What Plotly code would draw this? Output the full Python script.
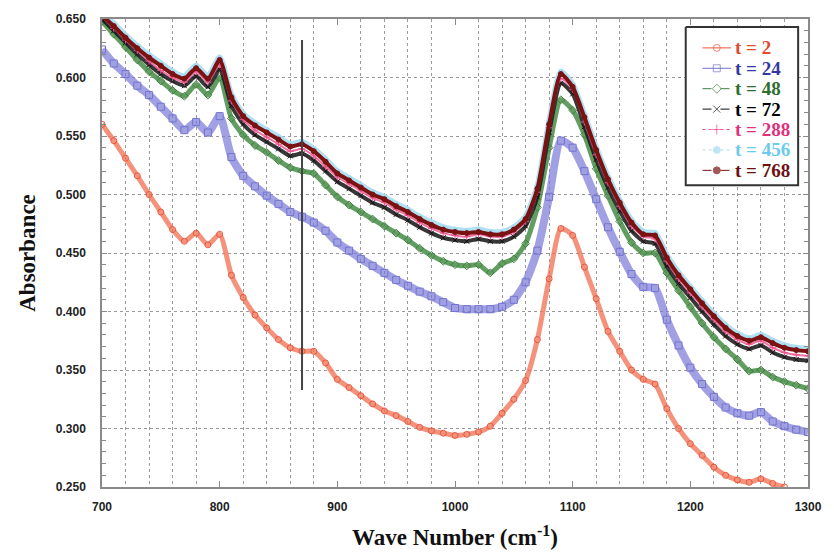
import plotly.graph_objects as go

# ---------------- data ----------------
wavenumber = list(range(700, 1301, 10))
wavenumber_t2 = list(range(700, 1281, 10))

t2 = [0.560, 0.546, 0.531, 0.516, 0.500, 0.485, 0.470, 0.460, 0.467, 0.457,
      0.466, 0.431, 0.412, 0.397, 0.386, 0.376, 0.369, 0.366, 0.366, 0.356,
      0.342, 0.335, 0.328, 0.321, 0.315, 0.311, 0.306, 0.301, 0.298, 0.296,
      0.294, 0.295, 0.297, 0.302, 0.313, 0.325, 0.341, 0.376, 0.428, 0.471,
      0.465, 0.438, 0.411, 0.383, 0.366, 0.350, 0.342, 0.338, 0.317, 0.300,
      0.287, 0.277, 0.267, 0.260, 0.256, 0.254, 0.257, 0.253, 0.250]

t24 = [0.624, 0.612, 0.603, 0.593, 0.585, 0.575, 0.565, 0.555, 0.562, 0.553,
       0.567, 0.532, 0.516, 0.507, 0.499, 0.492, 0.485, 0.481, 0.476, 0.469,
       0.459, 0.452, 0.445, 0.439, 0.433, 0.427, 0.422, 0.417, 0.413, 0.408,
       0.403, 0.402, 0.402, 0.402, 0.404, 0.410, 0.425, 0.452, 0.498, 0.546,
       0.540, 0.520, 0.496, 0.472, 0.451, 0.432, 0.421, 0.420, 0.393, 0.371,
       0.352, 0.338, 0.327, 0.318, 0.313, 0.311, 0.314, 0.306, 0.302, 0.299,
       0.297]

t48 = [0.648, 0.637, 0.626, 0.615, 0.605, 0.597, 0.589, 0.584, 0.594, 0.585,
       0.600, 0.565, 0.551, 0.542, 0.536, 0.529, 0.523, 0.520, 0.518, 0.508,
       0.498, 0.491, 0.485, 0.479, 0.473, 0.467, 0.461, 0.454, 0.448, 0.443,
       0.440, 0.439, 0.440, 0.433, 0.441, 0.445, 0.458, 0.489, 0.540, 0.581,
       0.572, 0.551, 0.522, 0.499, 0.477, 0.459, 0.450, 0.450, 0.433, 0.418,
       0.404, 0.390, 0.378, 0.368, 0.359, 0.349, 0.350, 0.344, 0.340, 0.337,
       0.334]

t72 = [0.650, 0.640, 0.630, 0.620, 0.611, 0.603, 0.597, 0.593, 0.601, 0.592,
       0.607, 0.576, 0.560, 0.551, 0.545, 0.539, 0.533, 0.535, 0.529, 0.520,
       0.511, 0.505, 0.499, 0.493, 0.489, 0.483, 0.478, 0.472, 0.467, 0.463,
       0.461, 0.460, 0.462, 0.460, 0.460, 0.464, 0.473, 0.498, 0.553, 0.595,
       0.586, 0.558, 0.530, 0.506, 0.486, 0.469, 0.460, 0.458, 0.439, 0.424,
       0.412, 0.400, 0.389, 0.379, 0.372, 0.368, 0.371, 0.365, 0.361, 0.359,
       0.358]

t288 = [0.652, 0.642, 0.632, 0.623, 0.614, 0.606, 0.600, 0.596, 0.605, 0.596,
        0.611, 0.580, 0.564, 0.555, 0.549, 0.543, 0.537, 0.539, 0.533, 0.524,
        0.515, 0.509, 0.503, 0.497, 0.493, 0.487, 0.482, 0.476, 0.471, 0.467,
        0.465, 0.464, 0.466, 0.464, 0.464, 0.468, 0.477, 0.502, 0.557, 0.599,
        0.590, 0.562, 0.534, 0.510, 0.490, 0.473, 0.464, 0.462, 0.443, 0.428,
        0.416, 0.404, 0.393, 0.383, 0.376, 0.372, 0.375, 0.369, 0.365, 0.363,
        0.362]

t456 = [0.655, 0.646, 0.636, 0.627, 0.619, 0.612, 0.605, 0.601, 0.610, 0.601,
        0.617, 0.585, 0.569, 0.561, 0.555, 0.549, 0.543, 0.545, 0.539, 0.530,
        0.520, 0.514, 0.508, 0.502, 0.498, 0.492, 0.487, 0.481, 0.476, 0.472,
        0.470, 0.469, 0.470, 0.468, 0.468, 0.472, 0.481, 0.507, 0.562, 0.605,
        0.594, 0.568, 0.540, 0.515, 0.495, 0.478, 0.468, 0.467, 0.448, 0.433,
        0.421, 0.409, 0.398, 0.388, 0.381, 0.377, 0.380, 0.375, 0.371, 0.369,
        0.368]

t768 = [0.653, 0.644, 0.634, 0.625, 0.617, 0.610, 0.603, 0.599, 0.608, 0.599,
        0.615, 0.583, 0.567, 0.559, 0.553, 0.547, 0.541, 0.543, 0.537, 0.528,
        0.518, 0.512, 0.506, 0.500, 0.496, 0.490, 0.485, 0.479, 0.474, 0.470,
        0.468, 0.467, 0.468, 0.466, 0.466, 0.470, 0.479, 0.505, 0.560, 0.603,
        0.592, 0.566, 0.538, 0.513, 0.493, 0.476, 0.466, 0.465, 0.446, 0.431,
        0.419, 0.407, 0.396, 0.386, 0.379, 0.375, 0.378, 0.373, 0.369, 0.367,
        0.366]

labels = ["t = 2", "t = 24", "t = 48", "t = 72", "t = 288", "t = 456", "t = 768"]

marker_line_x = 870
marker_line_y = [0.333, 0.632]

# ---------------- styles ----------------
C2 = "#e8553a"
C24 = "#7474d0"
C48 = "#3f7f3f"
C72 = "#111111"
C288 = "#ee4f8f"
C456 = "#a8def2"
C768 = "#7a1212"

TXT = {"t = 2": "#e34a2c", "t = 24": "#3438a6", "t = 48": "#2d6e2d",
       "t = 72": "#000000", "t = 288": "#e0307a", "t = 456": "#6ccbea",
       "t = 768": "#6e1010"}

fig = go.Figure()

def band(x, y, color, line_w, sym, msize, mcolor, mfill=None):
    fig.add_trace(go.Scatter(
        x=x, y=y, mode="lines+markers", showlegend=False,
        line=dict(color=color, width=line_w, shape="spline", smoothing=0.6),
        marker=dict(symbol=sym, size=msize,
                    color=mfill if mfill else mcolor,
                    line=dict(color=mcolor, width=1)),
        hoverinfo="skip"))

band(wavenumber_t2, t2, "rgba(240,110,80,0.75)", 5, "circle-open", 6, C2)
band(wavenumber, t24, "rgba(120,120,215,0.7)", 8, "square-open", 7, C24)
band(wavenumber, t48, "rgba(70,140,70,0.85)", 5, "diamond-open", 6, C48)
band(wavenumber, t456, "rgba(168,222,242,0.9)", 6, "circle", 5, C456, C456)
band(wavenumber, t72, "rgba(20,20,20,0.85)", 4, "x-thin-open", 5, C72)
band(wavenumber, t288, "rgba(238,80,140,0.8)", 2, "cross-thin-open", 5, C288)
band(wavenumber, t768, C768, 4, "circle", 5, C768, C768)

fig.add_shape(type="line", xref="x", yref="y",
              x0=marker_line_x, x1=marker_line_x,
              y0=marker_line_y[0], y1=marker_line_y[1],
              line=dict(color="#444444", width=2))

# ---------------- hand-built legend (overlay axes in pixel units) ----------------
PL, PR, PT, PB = 102, 818, 18, 488
BOX = (694, 808, 26, 185)
ROW0, ROWSTEP = 47, 20.5
SYM_X0, SYM_X1, TXT_X = 711, 740, 742

fig.add_trace(go.Scatter(
    x=[BOX[0], BOX[1], BOX[1], BOX[0], BOX[0]],
    y=[BOX[2], BOX[2], BOX[3], BOX[3], BOX[2]],
    mode="lines", fill="toself", fillcolor="white",
    line=dict(color="#333333", width=2), showlegend=False, hoverinfo="skip",
    xaxis="x2", yaxis="y2"))

leg_style = [
    (C2, "solid", "circle-open", None),
    (C24, "solid", "square-open", None),
    (C48, "dash", "diamond-open", None),
    (C72, "dash", "x-thin-open", None),
    (C288, "dot", "cross-thin-open", None),
    (C456, "dot", "circle", C456),
    (C768, "dash", "circle", C768),
]
for i, (name, (col, dash, sym, fill)) in enumerate(zip(labels, leg_style)):
    ry = ROW0 + i * ROWSTEP
    fig.add_trace(go.Scatter(
        x=[SYM_X0, (SYM_X0 + SYM_X1) / 2, SYM_X1], y=[ry, ry, ry],
        mode="lines+markers", showlegend=False, hoverinfo="skip",
        line=dict(color=col, width=1, dash=dash),
        marker=dict(symbol=sym, size=[0, 7, 0], color=fill if fill else col,
                    line=dict(color=col, width=1)),
        xaxis="x2", yaxis="y2"))
    fig.add_annotation(
        x=TXT_X, y=ry, xref="x2", yref="y2", xanchor="left", yanchor="middle",
        text=f"<b>{name}</b>", showarrow=False,
        font=dict(family="Liberation Serif, Times New Roman", size=19,
                  color=TXT[name]))

tickfont = dict(family="Liberation Sans, Arial", size=12, color="#222222",
                weight="bold")
titlefont = dict(family="Liberation Serif, Times New Roman", size=23, color="#111111")

fig.update_layout(
    width=834, height=558,
    margin=dict(l=PL, r=834 - PR, t=PT, b=558 - PB),
    paper_bgcolor="white", plot_bgcolor="white",
    showlegend=False,
    font=dict(family="Liberation Serif, Times New Roman"),
    xaxis=dict(range=[700, 1300], dtick=100, tick0=700,
               showgrid=False, zeroline=False,
               showline=True, linecolor="#8a8a8a", linewidth=1.5, mirror="allticks",
               ticks="inside", ticklen=6, tickcolor="#8a8a8a",
               tickfont=tickfont, ticklabelstandoff=8,
               minor=dict(dtick=20, showgrid=True, griddash="dot",
                          gridcolor="#9a9a9a", gridwidth=1, ticks=""),
               title=dict(text="<b>Wave Number (cm<sup>-1</sup>)</b>", font=titlefont,
                          standoff=16)),
    yaxis=dict(range=[0.25, 0.65], dtick=0.05, tick0=0.25, tickformat=".3f",
               showgrid=True, griddash="dot", gridcolor="#9a9a9a", gridwidth=1,
               zeroline=False,
               showline=True, linecolor="#8a8a8a", linewidth=1.5, mirror="allticks",
               ticks="inside", ticklen=5, tickcolor="#8a8a8a",
               tickfont=tickfont, ticklabelstandoff=12,
               minor=dict(dtick=0.01, ticks="inside", ticklen=4, tickcolor="#8a8a8a",
                          showgrid=False),
               title=dict(text="<b>Absorbance</b>", font=titlefont, standoff=14)),
    xaxis2=dict(range=[PL, PR], overlaying="x", visible=False, fixedrange=True),
    yaxis2=dict(range=[PB, PT], overlaying="y", visible=False, fixedrange=True),
)

fig.write_html("out.html")
